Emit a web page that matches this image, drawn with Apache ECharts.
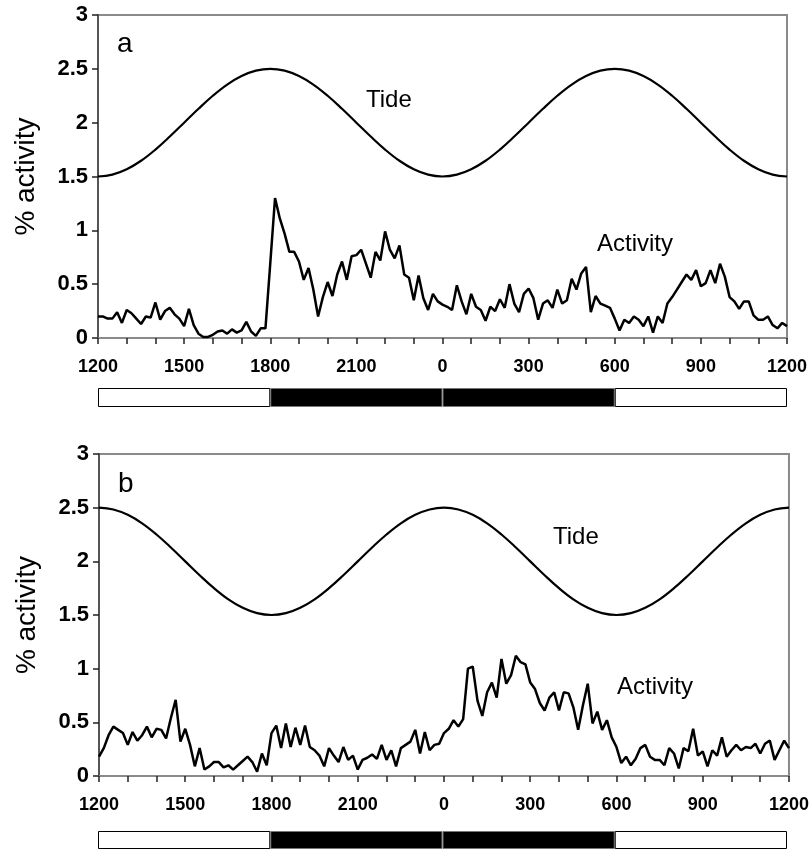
<!DOCTYPE html>
<html>
<head>
<meta charset="utf-8">
<script src="https://cdn.jsdelivr.net/npm/echarts@6/dist/echarts.min.js"></script>
<style>
html,body{margin:0;padding:0;background:#fff;}
#c{width:812px;height:850px;}
</style>
</head>
<body>
<div id="c"></div>
<script>
// x axis: hours after 12:00 (0..24); tick labels every 3 h
const tickLabels = ['1200','1500','1800','2100','0','300','600','900','1200'];

// Tide curves, values every 30 min from 1200
const tideA = [1.5,1.517,1.567,1.646,1.75,1.871,2.0,2.129,2.25,2.354,2.433,2.483,2.5,2.483,2.433,2.354,2.25,2.129,2.0,1.871,1.75,1.646,1.567,1.517,
               1.5,1.517,1.567,1.646,1.75,1.871,2.0,2.129,2.25,2.354,2.433,2.483,2.5,2.483,2.433,2.354,2.25,2.129,2.0,1.871,1.75,1.646,1.567,1.517,1.5];
const tideB = [2.5,2.483,2.433,2.354,2.25,2.129,2.0,1.871,1.75,1.646,1.567,1.517,1.5,1.517,1.567,1.646,1.75,1.871,2.0,2.129,2.25,2.354,2.433,2.483,
               2.5,2.483,2.433,2.354,2.25,2.129,2.0,1.871,1.75,1.646,1.567,1.517,1.5,1.517,1.567,1.646,1.75,1.871,2.0,2.129,2.25,2.354,2.433,2.483,2.5];

// Activity, values every 10 min from 1200
const activityA = [
 0.20,0.20,0.18,0.18,0.24,0.14,0.26,0.23,0.18,0.13,0.20,0.19,0.33,0.17,0.25,0.28,0.22,0.18,0.11,0.27,0.12,0.04,0.01,0.01,
 0.03,0.06,0.07,0.04,0.08,0.05,0.07,0.15,0.06,0.02,0.09,0.09,0.69,1.30,1.11,0.97,0.80,0.80,0.71,0.54,0.65,0.45,0.20,0.38,
 0.52,0.39,0.59,0.71,0.54,0.76,0.77,0.82,0.69,0.56,0.80,0.72,0.99,0.82,0.74,0.86,0.59,0.56,0.35,0.58,0.37,0.26,0.41,0.34,
 0.31,0.29,0.26,0.49,0.34,0.22,0.41,0.29,0.26,0.16,0.29,0.25,0.36,0.28,0.50,0.32,0.24,0.41,0.46,0.37,0.17,0.32,0.35,0.28,
 0.45,0.32,0.35,0.55,0.45,0.60,0.66,0.24,0.39,0.32,0.30,0.28,0.18,0.07,0.17,0.14,0.20,0.17,0.11,0.20,0.05,0.20,0.14,0.32,
 0.38,0.45,0.52,0.59,0.54,0.63,0.48,0.51,0.63,0.51,0.69,0.57,0.38,0.34,0.27,0.34,0.34,0.21,0.17,0.17,0.20,0.12,0.09,0.14,0.11];
const activityB = [
 0.18,0.26,0.38,0.46,0.43,0.40,0.29,0.41,0.33,0.38,0.46,0.36,0.44,0.43,0.35,0.54,0.71,0.32,0.44,0.29,0.09,0.26,0.06,0.09,
 0.13,0.13,0.08,0.10,0.06,0.10,0.14,0.18,0.13,0.04,0.21,0.10,0.40,0.47,0.26,0.49,0.27,0.45,0.29,0.47,0.27,0.24,0.19,0.09,
 0.26,0.19,0.13,0.27,0.15,0.19,0.06,0.15,0.17,0.20,0.16,0.29,0.15,0.24,0.09,0.26,0.29,0.32,0.43,0.21,0.41,0.24,0.29,0.30,
 0.40,0.44,0.52,0.46,0.53,1.00,1.02,0.70,0.56,0.78,0.87,0.73,1.09,0.86,0.94,1.12,1.06,1.04,0.87,0.81,0.68,0.61,0.73,0.78,
 0.61,0.78,0.77,0.64,0.43,0.66,0.86,0.49,0.60,0.43,0.52,0.36,0.27,0.12,0.18,0.10,0.16,0.26,0.29,0.18,0.15,0.15,0.10,0.26,
 0.21,0.07,0.26,0.23,0.44,0.19,0.23,0.09,0.24,0.19,0.36,0.18,0.24,0.29,0.24,0.27,0.26,0.30,0.21,0.30,0.33,0.15,0.24,0.33,0.26];

// Light/dark bar: segment lengths (hours) and whether dark
const ldHours = [6, 6, 6, 6];
const ldDark = [false, true, true, false];

const FONT = '"Liberation Sans", Arial, sans-serif';

function pairs(arr, stepH){ return arr.map((v,i)=>[i*stepH, v]); }

const panels = [
  {left:98, width:689, top:15, height:323, tide:tideA, act:activityA},
  {left:99, width:693, top:454, height:322, tide:tideB, act:activityB}
];
const ldGrids = [
  {left:98, width:689, top:388, height:19},
  {left:98, width:689, top:831, height:18}
];

const grid = [], xAxis = [], yAxis = [], series = [];
panels.forEach((p, i) => {
  grid.push({left:p.left, width:p.width, top:p.top, height:p.height, show:true,
             borderColor:'#8a8a8a', borderWidth:2, backgroundColor:'transparent'});
  xAxis.push({type:'value', gridIndex:i, min:0, max:24, interval:1,
    axisLine:{show:true, onZero:false, lineStyle:{color:'#8a8a8a', width:2}},
    axisTick:{show:true, inside:false, length:6, lineStyle:{color:'#222', width:1.5}},
    splitLine:{show:false},
    axisLabel:{margin:20, color:'#000', fontFamily:FONT, fontWeight:'bold', fontSize:18,
      formatter: v => (v % 3 === 0 ? tickLabels[v/3] : '')}
  });
  yAxis.push({type:'value', gridIndex:i, min:0, max:3, interval:0.5,
    name:'% activity', nameLocation:'middle', nameRotate:90, nameGap:58,
    nameTextStyle:{color:'#000', fontFamily:FONT, fontSize:28},
    axisLine:{show:true, lineStyle:{color:'#555', width:2}},
    axisTick:{show:true, inside:false, length:6, lineStyle:{color:'#222', width:1.5}},
    splitLine:{show:false},
    axisLabel:{margin:10, color:'#000', fontFamily:FONT, fontWeight:'bold', fontSize:22,
      formatter: v => String(v)}
  });
  series.push({type:'line', xAxisIndex:i, yAxisIndex:i, data:pairs(p.tide, 0.5), smooth:0.4,
    showSymbol:false, lineStyle:{color:'#000', width:2.2}, silent:true, z:3});
  series.push({type:'line', xAxisIndex:i, yAxisIndex:i, data:pairs(p.act, 1/6), smooth:false,
    showSymbol:false, lineStyle:{color:'#000', width:2.5}, silent:true, z:3});
});
ldGrids.forEach((g, j) => {
  const gi = grid.length;
  grid.push({left:g.left, width:g.width, top:g.top, height:g.height});
  xAxis.push({type:'value', gridIndex:gi, min:0, max:24, show:false});
  yAxis.push({type:'category', gridIndex:gi, data:['LD'], show:false});
  ldHours.forEach((h, k) => {
    series.push({type:'bar', xAxisIndex:gi, yAxisIndex:gi, stack:'ld'+j, data:[h],
      barWidth:'100%', silent:true,
      itemStyle:{color: ldDark[k] ? '#000' : '#fff',
                 borderColor: ldDark[k] ? '#777' : '#000', borderWidth:1}});
  });
});

const txt = (x, y, s, size) => ({type:'text', left:x, top:y,
  style:{text:s, fill:'#000', font: size + 'px ' + FONT}});

const chart = echarts.init(document.getElementById('c'), null, {renderer:'canvas'});
chart.setOption({
  animation:false,
  grid, xAxis, yAxis, series,
  graphic:[
    txt(117, 30, 'a', 28),
    txt(366, 88, 'Tide', 24),
    txt(597, 232, 'Activity', 24),
    txt(118, 470, 'b', 28),
    txt(553, 525, 'Tide', 24),
    txt(617, 675, 'Activity', 24)
  ]
});
</script>
</body>
</html>
